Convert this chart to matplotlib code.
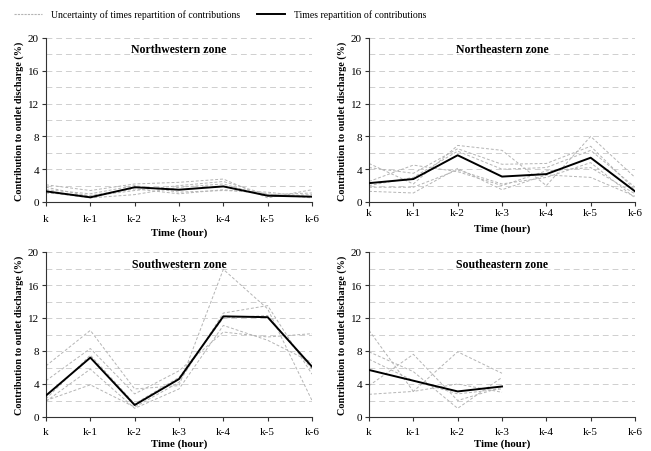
import matplotlib
matplotlib.use("Agg")
import matplotlib.pyplot as plt
from matplotlib.lines import Line2D

plt.rcParams['font.family'] = ['Liberation Serif', 'DejaVu Serif']

time_labels = ["k", "k-1", "k-2", "k-3", "k-4", "k-5", "k-6"]

nw_main = [1.3, 0.57, 1.8, 1.5, 1.9, 0.77, 0.65]
nw_unc = [
    [2.1, 1.4, 2.2, 2.4, 2.8, 0.5, 1.5],
    [1.1, 0.8, 1.6, 1.0, 1.5, 1.0, 0.5],
    [1.2, 0.5, 0.9, 1.8, 2.2, 0.7, 0.9],
    [1.5, 1.0, 2.0, 1.2, 1.4, 1.2, 0.6],
    [1.8, 0.7, 1.4, 2.0, 2.5, 0.9, 1.1],
]

ne_main = [2.3, 2.8, 5.7, 3.1, 3.4, 5.4, 1.3]
ne_unc = [
    [4.7, 2.2, 6.9, 6.3, 2.0, 8.0, 3.0],
    [4.2, 3.5, 6.5, 4.6, 4.7, 6.8, 1.5],
    [1.3, 1.1, 4.1, 1.5, 3.3, 3.0, 0.7],
    [2.5, 4.5, 3.7, 2.0, 3.8, 4.2, 1.0],
    [2.0, 3.0, 6.2, 4.0, 4.2, 6.3, 1.8],
    [1.8, 1.8, 3.9, 2.2, 3.0, 4.8, 0.5],
]

sw_main = [2.6, 7.2, 1.45, 4.6, 12.2, 12.1, 6.1]
sw_unc = [
    [6.2, 10.5, 3.4, 3.8, 17.9, 13.1, 2.0],
    [4.4, 8.3, 2.8, 5.6, 10.3, 9.7, 10.1],
    [2.0, 3.9, 1.2, 4.2, 12.6, 13.5, 5.2],
    [1.9, 5.8, 1.05, 3.4, 11.1, 9.3, 6.6],
    [2.2, 7.5, 1.6, 4.8, 12.0, 12.3, 5.8],
]

se_main = [5.7, 4.4, 3.1, 3.7]
se_unc = [
    [10.5, 3.1, 4.0, 3.0],
    [2.75, 3.1, 7.9, 5.3],
    [3.8, 7.6, 2.0, 3.6],
    [7.9, 5.5, 1.05, 4.8],
    [7.0, 4.4, 2.8, 3.4],
]

panels = [
    ("Northwestern zone", nw_main, nw_unc),
    ("Northeastern zone", ne_main, ne_unc),
    ("Southwestern zone", sw_main, sw_unc),
    ("Southeastern zone", se_main, se_unc),
]

W, H = 651, 452
fig = plt.figure(figsize=(W / 100, H / 100), dpi=100)

boxes = [(46, 312, 39, 203), (369, 635, 39, 203), (46, 312, 253, 418), (369, 635, 253, 418)]
xpads = [6, 1, 4, 4]
xlabelpads = [3, 5, 2, 2]

unc_color = "#b4b4b4"
for i, ((title, main, unc), (l, r, t, b)) in enumerate(zip(panels, boxes)):
    ax = fig.add_axes([l / W, 1 - b / H, (r - l) / W, (b - t) / H])
    for y in range(2, 21, 2):
        ax.axhline(y, color="#cfcfcf", lw=0.7, ls=(0, (6, 4)), zorder=0)
    for s in unc:
        ax.plot(range(len(s)), s, color=unc_color, lw=0.7, ls=(0, (3, 2)), zorder=1)
    ax.plot(range(len(main)), main, color="black", lw=1.4, zorder=3)
    ax.set_xlim(0, 6)
    ax.set_ylim(0, 20)
    ax.set_yticks(range(0, 21, 4))
    ax.set_xticks(range(7))
    ax.set_xticklabels(time_labels)
    ax.tick_params(labelsize=8, length=3, width=0.8, colors="#333333", labelcolor="black")
    ax.tick_params(axis="x", pad=xpads[i])
    ax.tick_params(axis="y", pad=2)
    for side in ("top", "right"):
        ax.spines[side].set_visible(False)
    for side in ("left", "bottom"):
        ax.spines[side].set_linewidth(0.8)
        ax.spines[side].set_color("#333333")
    ax.text(0.5, 0.93, title, transform=ax.transAxes, ha="center", va="center",
            fontsize=8.5, fontweight="bold")
    ax.set_ylabel("Contribution to outlet discharge (%)", fontsize=7.3, fontweight="bold")
    ax.yaxis.set_label_coords(-0.081, 0.5)
    ax.set_xlabel("Time (hour)", fontsize=7.8, fontweight="bold", labelpad=xlabelpads[i])

handles = [
    Line2D([], [], color=unc_color, lw=0.8, ls=(0, (2, 1))),
    Line2D([], [], color="black", lw=1.4),
]
fig.legend(handles, ["Uncertainty of times repartition of contributions",
                     "Times repartition of contributions"],
           loc="center", bbox_to_anchor=(0.338, 0.966), ncol=2, frameon=False,
           fontsize=7, handlelength=2.9, columnspacing=1.8, handletextpad=0.85)

fig.savefig("out.png", dpi=100)
